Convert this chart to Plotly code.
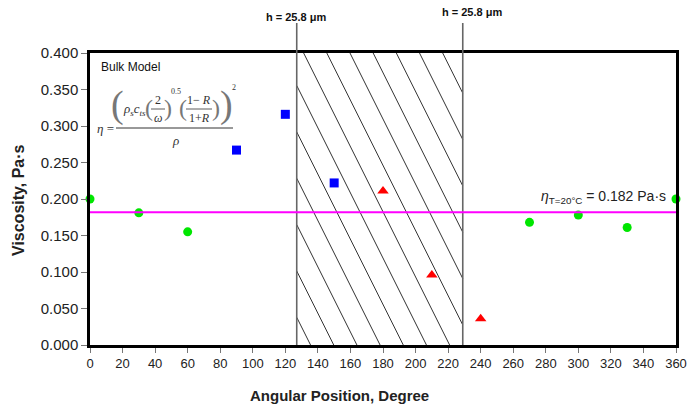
import numpy as np
import plotly.graph_objects as go

# Measured viscosity by angular position
green_angle = [0, 30, 60, 270, 300, 330, 360]
green_visc = [0.200, 0.181, 0.155, 0.168, 0.178, 0.161, 0.200]
blue_angle = [90, 120, 150]
blue_visc = [0.267, 0.316, 0.222]
red_angle = [180, 210, 240]
red_visc = [0.211, 0.096, 0.036]

ref_visc = 0.182                # reference viscosity at 20 °C
zone = [127, 229]               # hatched zone boundaries (degrees)
x_ticks = list(range(0, 361, 20))
y_ticks = [0.0, 0.05, 0.10, 0.15, 0.20, 0.25, 0.30, 0.35, 0.40]

W, H = 687, 409
L, R, T, B = 90, 11, 53, 64
PW, PH = W - L - R, H - T - B


def px(xp):
    return (xp - L) / PW


def py(yp):
    return (H - B - yp) / PH


fig = go.Figure()

fig.add_trace(go.Scatter(x=green_angle, y=green_visc, mode="markers", cliponaxis=False,
                         marker=dict(symbol="circle", size=9, color="#00e600"), showlegend=False))
fig.add_trace(go.Scatter(x=blue_angle, y=blue_visc, mode="markers", cliponaxis=False,
                         marker=dict(symbol="square", size=9, color="#0000ff"), showlegend=False))
fig.add_trace(go.Scatter(x=red_angle, y=red_visc, mode="markers", cliponaxis=False,
                         marker=dict(symbol="triangle-up", size=10, color="#ff0000"), showlegend=False))

shapes = []
# hatching inside the zone: steep lines falling to the right, clipped to the box
slope = -0.00446
step = 0.0635
x0, x1 = zone
for k in range(-16, 16):
    c = 0.345 + step * k  # y where the line meets the right boundary
    pts = []
    for xe in (x0, x1):
        ye = c + slope * (xe - x1)
        if 0 <= ye <= 0.4:
            pts.append((xe, ye))
    for ye in (0.0, 0.4):
        xe = x1 + (ye - c) / slope
        if x0 < xe < x1:
            pts.append((xe, ye))
    if len(pts) >= 2:
        pts = sorted(pts)[:2]
        shapes.append(dict(type="line", xref="x", yref="y", x0=pts[0][0], y0=pts[0][1],
                           x1=pts[1][0], y1=pts[1][1], line=dict(color="#333333", width=1)))

for xz in zone:
    shapes.append(dict(type="line", xref="x", yref="paper", x0=xz, x1=xz, y0=0, y1=py(23),
                       line=dict(color="#666666", width=1.6)))

shapes.append(dict(type="line", xref="x", yref="y", x0=0, x1=360, y0=ref_visc, y1=ref_visc,
                   line=dict(color="#ff00ff", width=2)))

# fraction bars of the formula
for (a, b, yy, w) in [(116, 233, 128, 1), (151, 165, 109, 0.8), (186, 212, 109, 0.8)]:
    shapes.append(dict(type="line", xref="paper", yref="paper", x0=px(a), x1=px(b),
                       y0=py(yy), y1=py(yy), line=dict(color="#333333", width=w)))

fig.update_layout(shapes=shapes)

ann = []


def note(xp, yp, text, size=12, color="#222222", family="Liberation Sans, Arial", xanchor="center"):
    ann.append(dict(xref="paper", yref="paper", x=px(xp), y=py(yp), text=text, showarrow=False,
                    xanchor=xanchor, yanchor="middle",
                    font=dict(size=size, color=color, family=family)))


serif = "Liberation Serif, Times New Roman"
note(296, 17, "<b>h = 25.8 μm</b>", 11, "#111111")
note(472, 12, "<b>h = 25.8 μm</b>", 11, "#111111")
note(99, 67, "Bulk Model", 12, "#111111", xanchor="left")

# bulk model formula
note(105, 128, "<i>η</i> =", 13, "#333333", serif)
note(117, 104, "(", 38, "#777777", serif)
note(226, 104, ")", 38, "#777777", serif)
note(134, 109, "<i>ρ<sub>s</sub>c<sub>ts</sub></i>", 13, "#333333", serif)
note(149, 108, "(", 24, "#777777", serif)
note(168, 108, ")", 24, "#777777", serif)
note(158, 100, "2", 12, "#333333", serif)
note(158, 118, "<i>ω</i>", 12, "#333333", serif)
note(176, 91, "0.5", 8, "#333333", serif)
note(183, 108, "(", 24, "#777777", serif)
note(216, 108, ")", 24, "#777777", serif)
note(199, 100, "1− <i>R</i>", 12, "#333333", serif)
note(199, 118, "1+<i>R</i>", 12, "#333333", serif)
note(234, 87, "2", 8, "#333333", serif)
note(175, 140, "<i>ρ</i>", 13, "#333333", serif)

# reference viscosity label
note(668, 197, "<i>η</i><sub>T=20°C</sub> = 0.182 Pa·s", 14, "#222222", xanchor="right")

# axis titles
note(339, 395, "<b>Angular Position, Degree</b>", 15, "#222222")
ann.append(dict(xref="paper", yref="paper", x=px(18), y=py(200), text="<b>Viscosity, Pa·s</b>",
                showarrow=False, textangle=-90, xanchor="center", yanchor="middle",
                font=dict(size=16, color="#222222", family="Liberation Sans, Arial")))

fig.update_layout(annotations=ann)

fig.update_xaxes(range=[0, 360], tickvals=x_ticks, ticks="outside", ticklen=5, tickcolor="#777777",
                 showline=True, linecolor="black", linewidth=2.5, mirror=True, showgrid=False,
                 zeroline=False, automargin=False,
                 tickfont=dict(size=13, color="#222222", family="Liberation Sans, Arial"))
fig.update_yaxes(range=[0, 0.4], tickvals=y_ticks, tickformat=".3f", ticks="outside", ticklen=6,
                 tickcolor="#777777", showline=True, linecolor="black", linewidth=2.5, mirror=True,
                 showgrid=False, zeroline=False, automargin=False,
                 tickfont=dict(size=15, color="#222222", family="Liberation Sans, Arial"))

fig.update_layout(width=W, height=H, margin=dict(l=L, r=R, t=T, b=B),
                  plot_bgcolor="white", paper_bgcolor="white")

fig.write_html("out.html")
